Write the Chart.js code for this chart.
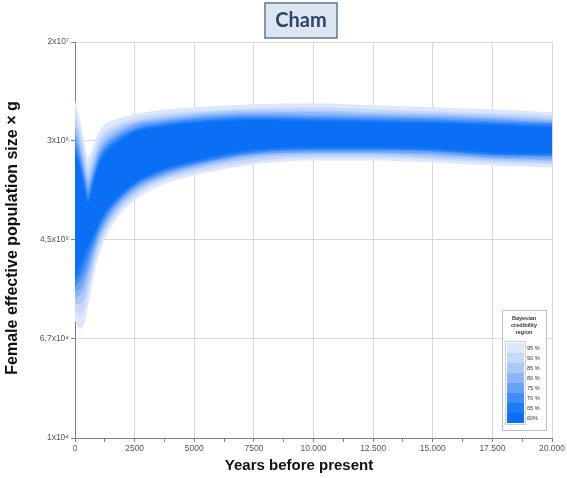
<!DOCTYPE html>
<html>
<head>
<meta charset="utf-8">
<script src="https://cdn.jsdelivr.net/npm/chart.js@4/dist/chart.umd.min.js"></script>
<style>
  html, body { margin: 0; padding: 0; background: #ffffff; }
  #wrap { position: relative; width: 567px; height: 478px; }
  canvas { display: block; }
</style>
</head>
<body>
<div id="wrap"><canvas id="chart" width="567" height="478"></canvas></div>
<script>
// Time axis (years before present)
const years = [0, 200, 400, 550, 750, 1000, 1300, 1700, 2500, 3500, 5000, 7500, 10000, 12500, 15000, 17500, 20000];

// Upper bounds of each credibility region (female Ne x g)
const upper95 = [6.54e6, 4.62e6, 2.91e6, 2.18e6, 2.70e6, 3.53e6, 4.20e6, 4.54e6, 4.99e6, 5.39e6, 5.71e6, 6.05e6, 6.17e6, 5.94e6, 5.71e6, 5.50e6, 5.19e6];
const upper90 = [5.29e6, 3.74e6, 2.36e6, 1.80e6, 2.27e6, 3.09e6, 3.67e6, 4.04e6, 4.62e6, 4.99e6, 5.29e6, 5.60e6, 5.71e6, 5.50e6, 5.29e6, 5.09e6, 4.90e6];
const upper85 = [4.45e6, 3.21e6, 2.06e6, 1.54e6, 2.02e6, 2.75e6, 3.40e6, 3.81e6, 4.36e6, 4.71e6, 5.09e6, 5.39e6, 5.39e6, 5.19e6, 5.09e6, 4.90e6, 4.62e6];
const upper80 = [3.89e6, 2.80e6, 1.80e6, 1.38e6, 1.80e6, 2.55e6, 3.09e6, 3.53e6, 4.20e6, 4.54e6, 4.90e6, 5.19e6, 5.19e6, 4.99e6, 4.90e6, 4.71e6, 4.45e6];
const upper75 = [3.47e6, 2.50e6, 1.60e6, 1.25e6, 1.64e6, 2.36e6, 2.91e6, 3.33e6, 4.04e6, 4.36e6, 4.71e6, 4.99e6, 4.90e6, 4.81e6, 4.71e6, 4.54e6, 4.28e6];
const upper70 = [3.03e6, 2.23e6, 1.46e6, 1.11e6, 1.51e6, 2.18e6, 2.70e6, 3.15e6, 3.81e6, 4.20e6, 4.54e6, 4.81e6, 4.71e6, 4.62e6, 4.54e6, 4.36e6, 4.20e6];
const upper65 = [2.70e6, 1.98e6, 1.30e6, 9.92e5, 1.38e6, 2.02e6, 2.55e6, 2.97e6, 3.67e6, 4.04e6, 4.36e6, 4.62e6, 4.54e6, 4.45e6, 4.36e6, 4.20e6, 4.04e6];
const upper60 = [2.40e6, 1.77e6, 1.16e6, 9.01e5, 1.25e6, 1.87e6, 2.36e6, 2.80e6, 3.53e6, 3.89e6, 4.20e6, 4.45e6, 4.36e6, 4.28e6, 4.20e6, 4.04e6, 3.89e6];

// Lower bounds of each credibility region
const lower60 = [2.26e5, 2.73e5, 3.45e5, 4.02e5, 4.87e5, 6.25e5, 7.88e5, 9.92e5, 1.35e6, 1.70e6, 2.06e6, 2.55e6, 2.65e6, 2.65e6, 2.60e6, 2.40e6, 2.36e6];
const lower65 = [2.05e5, 2.34e5, 2.95e5, 3.51e5, 4.42e5, 5.79e5, 7.44e5, 9.37e5, 1.30e6, 1.64e6, 1.98e6, 2.45e6, 2.55e6, 2.55e6, 2.50e6, 2.31e6, 2.27e6];
const lower70 = [1.83e5, 2.05e5, 2.48e5, 3.07e5, 3.94e5, 5.36e5, 7.02e5, 9.01e5, 1.25e6, 1.57e6, 1.91e6, 2.36e6, 2.50e6, 2.50e6, 2.45e6, 2.27e6, 2.23e6];
const lower75 = [1.66e5, 1.76e5, 2.13e5, 2.63e5, 3.58e5, 4.96e5, 6.50e5, 8.51e5, 1.20e6, 1.51e6, 1.87e6, 2.31e6, 2.40e6, 2.40e6, 2.36e6, 2.18e6, 2.14e6];
const lower80 = [1.48e5, 1.54e5, 1.83e5, 2.30e5, 3.19e5, 4.60e5, 6.13e5, 8.03e5, 1.14e6, 1.46e6, 1.80e6, 2.23e6, 2.36e6, 2.36e6, 2.27e6, 2.14e6, 2.06e6];
const lower85 = [1.32e5, 1.29e5, 1.51e5, 1.97e5, 2.84e5, 4.26e5, 5.68e5, 7.58e5, 1.09e6, 1.40e6, 1.73e6, 2.14e6, 2.27e6, 2.27e6, 2.18e6, 2.06e6, 1.98e6];
const lower90 = [1.15e5, 1.07e5, 1.22e5, 1.63e5, 2.48e5, 3.79e5, 5.26e5, 7.16e5, 1.03e6, 1.35e6, 1.64e6, 2.02e6, 2.18e6, 2.18e6, 2.10e6, 1.98e6, 1.91e6];
const lower95 = [9.50e4, 8.14e4, 9.14e4, 1.27e5, 2.05e5, 3.32e5, 4.69e5, 6.50e5, 9.55e5, 1.25e6, 1.54e6, 1.91e6, 2.06e6, 2.06e6, 1.98e6, 1.87e6, 1.80e6];

// Legend labels, outermost region first
const credLabels = ['95 %', '90 %', '85 %', '80 %', '75 %', '70 %', '65 %', '60%'];

// Axis ticks
const xTickValues = [0, 2500, 5000, 7500, 10000, 12500, 15000, 17500, 20000];
const xTickLabels = ['0', '2500', '5000', '7500', '10.000', '12.500', '15.000', '17.500', '20.000'];
const xMinorTicks = [1250, 3750, 6250, 8750, 11250, 13750, 16250, 18750];
const yTickValues = [1e4, 6.7e4, 4.5e5, 3e6, 2e7];
const yTickLabels = ['1x10\u2074', '6,7x10\u2074', '4,5x10\u2075', '3x10\u2076', '2x10\u2077'];

// Fill colours, outermost (95 %) to innermost (60 %)
const bandColors = ['#dce7f9', '#c6d9fa', '#aac9fa', '#8cb6f9', '#67a2f9', '#418df8', '#1e7bf6', '#0a6ff4'];

// Regions listed innermost first so they are painted last (on top)
const regions = [
  { upper: upper60, lower: lower60 },
  { upper: upper65, lower: lower65 },
  { upper: upper70, lower: lower70 },
  { upper: upper75, lower: lower75 },
  { upper: upper80, lower: lower80 },
  { upper: upper85, lower: lower85 },
  { upper: upper90, lower: lower90 },
  { upper: upper95, lower: lower95 }
];

const toPoints = arr => years.map((t, i) => ({ x: t, y: arr[i] }));

const datasets = [];
regions.forEach((r, k) => {
  const color = bandColors[bandColors.length - 1 - k];
  datasets.push({
    label: credLabels[credLabels.length - 1 - k],
    data: toPoints(r.upper),
    fill: '+1',
    backgroundColor: color,
    borderWidth: 0,
    borderColor: color,
    pointRadius: 0,
    cubicInterpolationMode: 'monotone'
  });
  datasets.push({
    label: credLabels[credLabels.length - 1 - k] + ' lower',
    data: toPoints(r.lower),
    fill: false,
    backgroundColor: color,
    borderWidth: 0,
    borderColor: color,
    pointRadius: 0,
    cubicInterpolationMode: 'monotone'
  });
});

const SANS = "'Liberation Sans', 'DejaVu Sans', Arial, sans-serif";

// Title box, axis titles and credibility legend
const decorations = {
  id: 'decorations',
  afterDraw(chart) {
    const ctx = chart.ctx;
    ctx.save();

    // Title box
    ctx.fillStyle = '#dce6f2';
    ctx.strokeStyle = '#5b7595';
    ctx.lineWidth = 1.5;
    ctx.fillRect(265, 3, 72, 35);
    ctx.strokeRect(265, 3, 72, 35);
    ctx.fillStyle = '#2b4668';
    ctx.font = "bold 20px Lato, 'Open Sans', sans-serif";
    ctx.textAlign = 'center';
    ctx.textBaseline = 'middle';
    ctx.fillText('Cham', 301, 21);

    // Axis titles
    ctx.fillStyle = '#111111';
    ctx.font = 'bold 15px ' + SANS;
    ctx.fillText('Years before present', 299, 466);
    ctx.save();
    ctx.translate(13, 238);
    ctx.rotate(-Math.PI / 2);
    ctx.font = 'bold 16px ' + SANS;
    ctx.fillText('Female effective population size \u00d7 g', 0, 0);
    ctx.restore();

    // Legend
    const lx = 502, ly = 310, lw = 44, lh = 120;
    ctx.fillStyle = '#ffffff';
    ctx.fillRect(lx, ly, lw, lh);
    ctx.strokeStyle = '#bdbdbd';
    ctx.lineWidth = 1;
    ctx.strokeRect(lx + 0.5, ly + 0.5, lw, lh);
    ctx.fillStyle = '#333333';
    ctx.font = 'bold 5.5px ' + SANS;
    ctx.fillText('Bayesian', lx + lw / 2, ly + 8);
    ctx.fillText('credibility', lx + lw / 2, ly + 15);
    ctx.fillText('region', lx + lw / 2, ly + 22);
    const sx = 507, sy = 343, sw = 17, sh = 10;
    ctx.strokeStyle = '#d0d0d0';
    ctx.strokeRect(sx - 1.5, sy - 1.5, sw + 3, sh * credLabels.length + 3);
    ctx.font = '5.5px ' + SANS;
    ctx.textAlign = 'left';
    credLabels.forEach((lab, i) => {
      ctx.fillStyle = bandColors[i];
      ctx.fillRect(sx, sy + i * sh, sw, sh);
      ctx.fillStyle = '#333333';
      ctx.fillText(lab, sx + sw + 3, sy + i * sh + sh / 2);
    });

    ctx.restore();
  }
};

new Chart(document.getElementById('chart'), {
  type: 'line',
  data: { datasets },
  options: {
    responsive: false,
    maintainAspectRatio: false,
    animation: false,
    layout: { padding: { left: 0, right: 14, top: 42, bottom: 0 } },
    plugins: {
      legend: { display: false },
      tooltip: { enabled: false },
      title: { display: false },
      filler: { propagate: false }
    },
    elements: { line: { borderWidth: 0 } },
    scales: {
      x: {
        type: 'linear',
        min: 0,
        max: 20000,
        afterBuildTicks: scale => {
          scale.ticks = xTickValues.concat(xMinorTicks).sort((a, b) => a - b).map(v => ({ value: v }));
        },
        afterFit: scale => { scale.height = 40; },
        ticks: {
          autoSkip: false,
          maxRotation: 0,
          padding: 2,
          color: '#555555',
          font: { family: SANS, size: 8.5 },
          callback: value => {
            const i = xTickValues.indexOf(value);
            return i >= 0 ? xTickLabels[i] : '';
          }
        },
        grid: {
          color: ctx => (ctx.tick && xTickValues.indexOf(ctx.tick.value) >= 0) ? '#d9d9d9' : 'rgba(0,0,0,0)',
          tickColor: '#808080',
          tickLength: 4,
          lineWidth: 1
        },
        border: { color: '#808080', width: 1 }
      },
      y: {
        type: 'logarithmic',
        min: 1e4,
        max: 2e7,
        afterBuildTicks: scale => {
          scale.ticks = yTickValues.map(v => ({ value: v }));
        },
        afterFit: scale => { scale.width = 75; },
        ticks: {
          autoSkip: false,
          padding: 2,
          color: '#555555',
          font: { family: SANS, size: 8.5 },
          callback: value => {
            const i = yTickValues.indexOf(value);
            return i >= 0 ? yTickLabels[i] : '';
          }
        },
        grid: {
          color: '#d9d9d9',
          tickColor: '#808080',
          tickLength: 4,
          lineWidth: 1
        },
        border: { color: '#808080', width: 1 }
      }
    }
  },
  plugins: [decorations]
});
</script>
</body>
</html>
